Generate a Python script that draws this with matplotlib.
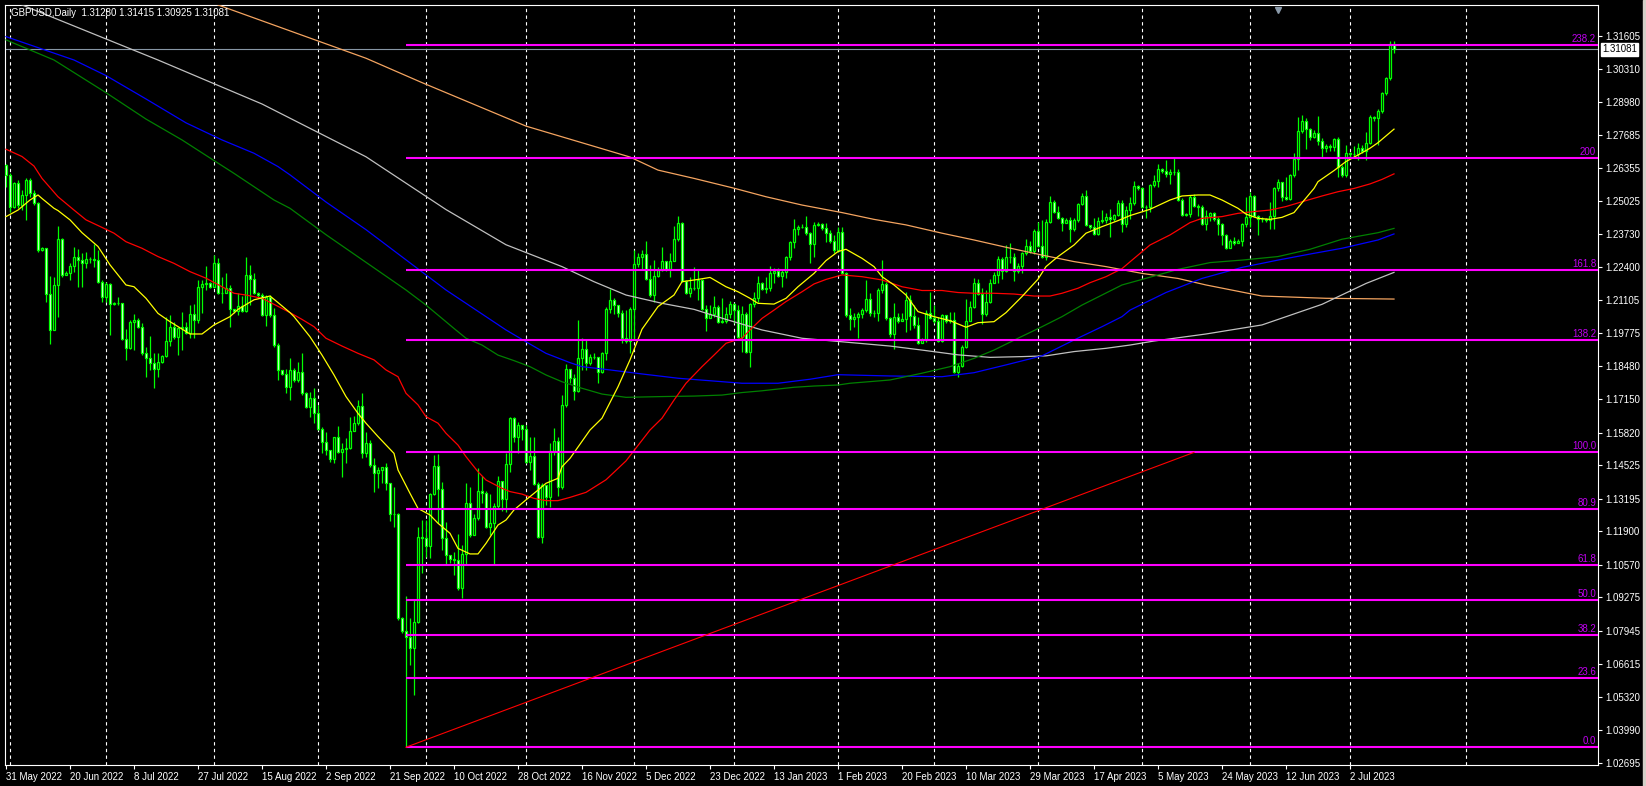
import numpy as np
import matplotlib
matplotlib.use("Agg")
import matplotlib.pyplot as plt
from matplotlib.patches import Rectangle
from matplotlib.transforms import blended_transform_factory

plt.rcParams['font.family'] = ['Liberation Sans', 'DejaVu Sans']

# GBPUSD daily bars (Sunday bars included)
first_open = 1.2647
closes = [
    1.2608, 1.2482, 1.2574, 1.2488, 1.2528, 1.2588, 1.2535, 1.2495, 1.2309, 1.2316,
    1.2134, 1.1991, 1.2170, 1.2352, 1.2210, 1.2219, 1.2246, 1.2280, 1.2269, 1.2259,
    1.2275, 1.2273, 1.2269, 1.2183, 1.2121, 1.2174, 1.2093, 1.2097, 1.2097, 1.1954,
    1.1918, 1.2023, 1.2031, 1.2004, 1.1898, 1.1878, 1.1861, 1.1837, 1.1865, 1.1888,
    1.1946, 1.2002, 1.1964, 1.1997, 1.2001, 1.1980, 1.2055, 1.2031, 1.2163, 1.2174,
    1.2179, 1.2163, 1.2256, 1.2139, 1.2139, 1.2157, 1.2073, 1.2065, 1.2086, 1.2068,
    1.2210, 1.2195, 1.2137, 1.2130, 1.2052, 1.2124, 1.2051, 1.1930, 1.1832, 1.1816,
    1.1763, 1.1832, 1.1792, 1.1825, 1.1739, 1.1686, 1.1719, 1.1659, 1.1596, 1.1547,
    1.1513, 1.1476, 1.1564, 1.1507, 1.1516, 1.1520, 1.1588, 1.1622, 1.1689, 1.1500,
    1.1543, 1.1454, 1.1421, 1.1434, 1.1445, 1.1381, 1.1259, 1.1259, 1.0844, 1.0795,
    1.0771, 1.0724, 1.0831, 1.1169, 1.1162, 1.1132, 1.1338, 1.1450, 1.1357, 1.1162,
    1.1096, 1.1079, 1.1076, 1.0963, 1.1098, 1.1301, 1.1175, 1.1242, 1.1352, 1.1341,
    1.1206, 1.1222, 1.1291, 1.1391, 1.1317, 1.1458, 1.1639, 1.1567, 1.1613, 1.1596,
    1.1467, 1.1490, 1.1378, 1.1169, 1.1374, 1.1328, 1.1511, 1.1551, 1.1368, 1.1693,
    1.1834, 1.1799, 1.1750, 1.1878, 1.1914, 1.1858, 1.1882, 1.1885, 1.1825, 1.1898,
    1.2073, 1.2110, 1.2090, 1.2057, 1.1958, 1.1948, 1.2073, 1.2253, 1.2280, 1.2293,
    1.2192, 1.2130, 1.2206, 1.2230, 1.2267, 1.2235, 1.2267, 1.2352, 1.2418, 1.2187,
    1.2139, 1.2157, 1.2157, 1.2190, 1.2073, 1.2037, 1.2055, 1.2081, 1.2024, 1.2028,
    1.2055, 1.2094, 1.2070, 1.1964, 1.2055, 1.1905, 1.2094, 1.2117, 1.2179, 1.2153,
    1.2157, 1.2216, 1.2227, 1.2206, 1.2223, 1.2280, 1.2342, 1.2391, 1.2399, 1.2402,
    1.2376, 1.2333, 1.2409, 1.2412, 1.2395, 1.2378, 1.2346, 1.2309, 1.2382, 1.2219,
    1.2051, 1.2033, 1.2041, 1.2055, 1.2071, 1.2113, 1.2057, 1.2060, 1.2150, 1.2174,
    1.2037, 1.1975, 1.2041, 1.2028, 1.2036, 1.2110, 1.2047, 1.2011, 1.1938, 1.1951,
    1.2060, 1.2037, 1.2028, 1.1949, 1.2051, 1.2028, 1.2031, 1.1825, 1.1848, 1.1922,
    1.2028, 1.2081, 1.2177, 1.2134, 1.2055, 1.2104, 1.2177, 1.2210, 1.2272, 1.2227,
    1.2280, 1.2280, 1.2227, 1.2246, 1.2296, 1.2325, 1.2307, 1.2386, 1.2325, 1.2283,
    1.2422, 1.2502, 1.2462, 1.2435, 1.2415, 1.2429, 1.2391, 1.2429, 1.2492, 1.2524,
    1.2409, 1.2399, 1.2373, 1.2426, 1.2429, 1.2439, 1.2431, 1.2448, 1.2498, 1.2413,
    1.2468, 1.2495, 1.2564, 1.2555, 1.2482, 1.2479, 1.2568, 1.2585, 1.2630, 1.2625,
    1.2612, 1.2621, 1.2621, 1.2508, 1.2448, 1.2452, 1.2521, 1.2484, 1.2482, 1.2413,
    1.2445, 1.2458, 1.2431, 1.2413, 1.2369, 1.2316, 1.2346, 1.2338, 1.2346, 1.2413,
    1.2442, 1.2524, 1.2445, 1.2431, 1.2431, 1.2429, 1.2445, 1.2555, 1.2581, 1.2521,
    1.2511, 1.2608, 1.2670, 1.2784, 1.2824, 1.2789, 1.2760, 1.2773, 1.2744, 1.2714,
    1.2723, 1.2720, 1.2749, 1.2641, 1.2608, 1.2694, 1.2691, 1.2691, 1.2714, 1.2704,
    1.2736, 1.2837, 1.2833, 1.2863, 1.2932, 1.2992, 1.3128, 1.31081,
]
highs = [
    1.2651, 1.2614, 1.2581, 1.2588, 1.2548, 1.2594, 1.2594, 1.2548, 1.2501, 1.2320,
    1.2316, 1.2206, 1.2203, 1.2405, 1.2356, 1.2227, 1.2256, 1.2322, 1.2312, 1.2296,
    1.2301, 1.2280, 1.2333, 1.2309, 1.2190, 1.2183, 1.2177, 1.2104, 1.2124, 1.2100,
    1.1994, 1.2031, 1.2055, 1.2040, 1.2020, 1.1925, 1.1967, 1.1898, 1.1898, 1.1891,
    1.2044, 1.2051, 1.2024, 1.2001, 1.2064, 1.2024, 1.2090, 1.2094, 1.2190, 1.2190,
    1.2246, 1.2183, 1.2289, 1.2276, 1.2203, 1.2216, 1.2170, 1.2073, 1.2137, 1.2126,
    1.2280, 1.2250, 1.2216, 1.2143, 1.2140, 1.2130, 1.2130, 1.2077, 1.1938, 1.1832,
    1.1834, 1.1878, 1.1838, 1.1865, 1.1898, 1.1746, 1.1746, 1.1759, 1.1692, 1.1606,
    1.1586, 1.1500, 1.1567, 1.1609, 1.1540, 1.1560, 1.1646, 1.1649, 1.1712, 1.1739,
    1.1586, 1.1553, 1.1480, 1.1447, 1.1447, 1.1463, 1.1384, 1.1368, 1.1264, 1.0850,
    1.0933, 1.0844, 1.0917, 1.1206, 1.1235, 1.1235, 1.1341, 1.1494, 1.1498, 1.1388,
    1.1228, 1.1092, 1.1109, 1.1179, 1.1136, 1.1381, 1.1368, 1.1259, 1.1441, 1.1410,
    1.1352, 1.1338, 1.1301, 1.1410, 1.1361, 1.1503, 1.1646, 1.1646, 1.1626, 1.1604,
    1.1613, 1.1567, 1.1564, 1.1388, 1.1381, 1.1334, 1.1540, 1.1600, 1.1567, 1.1732,
    1.1856, 1.1816, 1.1816, 1.2031, 1.1958, 1.1951, 1.1895, 1.1898, 1.1882, 1.1905,
    1.2084, 1.2153, 1.2117, 1.2064, 1.2070, 1.2070, 1.2084, 1.2309, 1.2298, 1.2309,
    1.2346, 1.2250, 1.2269, 1.2243, 1.2320, 1.2259, 1.2298, 1.2405, 1.2444, 1.2422,
    1.2190, 1.2203, 1.2240, 1.2230, 1.2192, 1.2090, 1.2090, 1.2126, 1.2090, 1.2117,
    1.2084, 1.2107, 1.2097, 1.2090, 1.2086, 1.2064, 1.2100, 1.2143, 1.2206, 1.2183,
    1.2203, 1.2245, 1.2236, 1.2236, 1.2232, 1.2285, 1.2346, 1.2431, 1.2409, 1.2412,
    1.2444, 1.2382, 1.2422, 1.2422, 1.2418, 1.2415, 1.2389, 1.2369, 1.2402, 1.2399,
    1.2223, 1.2077, 1.2057, 1.2064, 1.2077, 1.2190, 1.2137, 1.2071, 1.2157, 1.2269,
    1.2183, 1.2044, 1.2097, 1.2057, 1.2060, 1.2143, 1.2130, 1.2090, 1.2044, 1.1958,
    1.2071, 1.2143, 1.2090, 1.2044, 1.2055, 1.2037, 1.2064, 1.2064, 1.1861, 1.1931,
    1.2113, 1.2108, 1.2197, 1.2193, 1.2157, 1.2150, 1.2193, 1.2223, 1.2285, 1.2280,
    1.2329, 1.2336, 1.2296, 1.2256, 1.2303, 1.2352, 1.2346, 1.2391, 1.2422, 1.2429,
    1.2431, 1.2524, 1.2508, 1.2484, 1.2442, 1.2435, 1.2439, 1.2435, 1.2498, 1.2535,
    1.2548, 1.2405, 1.2435, 1.2439, 1.2468, 1.2458, 1.2471, 1.2452, 1.2508, 1.2508,
    1.2484, 1.2521, 1.2585, 1.2568, 1.2561, 1.2488, 1.2572, 1.2608, 1.2651, 1.2634,
    1.2667, 1.2630, 1.2678, 1.2630, 1.2515, 1.2458, 1.2528, 1.2532, 1.2492, 1.2488,
    1.2468, 1.2462, 1.2462, 1.2442, 1.2418, 1.2373, 1.2352, 1.2362, 1.2352, 1.2418,
    1.2521, 1.2541, 1.2528, 1.2448, 1.2439, 1.2435, 1.2501, 1.2561, 1.2590, 1.2581,
    1.2601, 1.2612, 1.2694, 1.2837, 1.2846, 1.2833, 1.2793, 1.2787, 1.2842, 1.2753,
    1.2731, 1.2731, 1.2753, 1.2757, 1.2647, 1.2727, 1.2700, 1.2723, 1.2733, 1.2727,
    1.2780, 1.2846, 1.2842, 1.2869, 1.2939, 1.2999, 1.3142, 1.31415,
]
lows = [
    1.2561, 1.2462, 1.2475, 1.2475, 1.2468, 1.2429, 1.2521, 1.2488, 1.2303, 1.2307,
    1.2104, 1.1935, 1.1991, 1.2041, 1.2203, 1.2210, 1.2190, 1.2223, 1.2161, 1.2163,
    1.2236, 1.2256, 1.2243, 1.2179, 1.2104, 1.2104, 1.1971, 1.2090, 1.2090, 1.1951,
    1.1872, 1.1914, 1.1911, 1.1998, 1.1891, 1.1805, 1.1832, 1.1759, 1.1803, 1.1861,
    1.1885, 1.1927, 1.1954, 1.1891, 1.1911, 1.1975, 1.1958, 1.1958, 1.2017, 1.2057,
    1.2150, 1.2157, 1.2163, 1.2134, 1.2097, 1.2137, 1.2001, 1.2057, 1.2051, 1.2064,
    1.2064, 1.2090, 1.2134, 1.2124, 1.2048, 1.2007, 1.2044, 1.1925, 1.1792, 1.1812,
    1.1742, 1.1712, 1.1785, 1.1785, 1.1732, 1.1679, 1.1646, 1.1620, 1.1593, 1.1500,
    1.1494, 1.1467, 1.1460, 1.1500, 1.1405, 1.1460, 1.1516, 1.1606, 1.1613, 1.1480,
    1.1487, 1.1447, 1.1348, 1.1361, 1.1381, 1.1354, 1.1232, 1.1208, 1.0837, 1.0784,
    1.0332, 1.0658, 1.0539, 1.0824, 1.1023, 1.1089, 1.1082, 1.1334, 1.1222, 1.1116,
    1.1056, 1.1063, 1.1016, 1.0957, 1.0923, 1.1056, 1.1169, 1.1208, 1.1235, 1.1301,
    1.1202, 1.1175, 1.1056, 1.1281, 1.1272, 1.1268, 1.1427, 1.1547, 1.1503, 1.1553,
    1.1460, 1.1434, 1.1374, 1.1162, 1.1145, 1.1295, 1.1288, 1.1494, 1.1330, 1.1357,
    1.1686, 1.1779, 1.1712, 1.1746, 1.1832, 1.1832, 1.1852, 1.1874, 1.1779, 1.1818,
    1.1872, 1.2057, 1.2055, 1.2044, 1.1940, 1.1938, 1.1898, 1.1951, 1.2243, 1.2230,
    1.2190, 1.2123, 1.2104, 1.2203, 1.2227, 1.2227, 1.2203, 1.2267, 1.2346, 1.2183,
    1.2134, 1.2121, 1.2150, 1.2110, 1.2070, 1.1988, 1.2037, 1.2044, 1.2020, 1.2020,
    1.2020, 1.2037, 1.2017, 1.1958, 1.1905, 1.1898, 1.1842, 1.2084, 1.2104, 1.2150,
    1.2137, 1.2147, 1.2177, 1.2200, 1.2163, 1.2196, 1.2269, 1.2316, 1.2369, 1.2395,
    1.2369, 1.2259, 1.2280, 1.2405, 1.2389, 1.2342, 1.2338, 1.2299, 1.2303, 1.2214,
    1.2044, 1.1991, 1.2004, 1.1958, 1.2037, 1.2064, 1.2047, 1.2044, 1.2028, 1.2140,
    1.2031, 1.1964, 1.1914, 1.2020, 1.2028, 1.1984, 1.1991, 1.1998, 1.1935, 1.1938,
    1.1945, 1.2033, 1.2017, 1.1945, 1.1945, 1.2020, 1.2020, 1.1821, 1.1803, 1.1842,
    1.1918, 1.2051, 1.2077, 1.2130, 1.2015, 1.2047, 1.2097, 1.2179, 1.2179, 1.2193,
    1.2223, 1.2259, 1.2187, 1.2216, 1.2216, 1.2289, 1.2299, 1.2293, 1.2323, 1.2276,
    1.2269, 1.2418, 1.2458, 1.2431, 1.2386, 1.2422, 1.2342, 1.2386, 1.2422, 1.2488,
    1.2405, 1.2391, 1.2369, 1.2369, 1.2418, 1.2415, 1.2362, 1.2426, 1.2445, 1.2382,
    1.2402, 1.2431, 1.2488, 1.2548, 1.2475, 1.2435, 1.2462, 1.2561, 1.2559, 1.2614,
    1.2601, 1.2572, 1.2608, 1.2505, 1.2445, 1.2445, 1.2442, 1.2482, 1.2445, 1.2409,
    1.2389, 1.2426, 1.2426, 1.2369, 1.2329, 1.2312, 1.2322, 1.2329, 1.2336, 1.2325,
    1.2399, 1.2402, 1.2439, 1.2369, 1.2422, 1.2422, 1.2391, 1.2391, 1.2545, 1.2505,
    1.2508, 1.2508, 1.2601, 1.2627, 1.2773, 1.2710, 1.2747, 1.2753, 1.2727, 1.2680,
    1.2700, 1.2704, 1.2704, 1.2601, 1.2601, 1.2601, 1.2674, 1.2680, 1.2667, 1.2694,
    1.2667, 1.2731, 1.2824, 1.2727, 1.2853, 1.2926, 1.2985, 1.30925,
]

# moving averages: (bar, price)
ma_yellow = [(0, 1.2442), (3, 1.2468), (6, 1.2508), (8, 1.2528), (9, 1.2514), (12, 1.2475),
             (13, 1.2466), (16, 1.2429), (19, 1.2378), (23, 1.2323), (26, 1.2250), (30, 1.2170),
             (32, 1.2163), (35, 1.2117), (38, 1.2057), (41, 1.2024), (46, 1.1975), (49, 1.1975),
             (52, 1.2011), (56, 1.2044), (58, 1.2073), (62, 1.2111), (66, 1.2126), (68, 1.2100),
             (71, 1.2060), (72, 1.2044), (76, 1.1964), (79, 1.1891), (82, 1.1812), (85, 1.1726),
             (88, 1.1659), (90, 1.1620), (93, 1.1567), (97, 1.1500), (98, 1.1434), (101, 1.1341),
             (103, 1.1281), (106, 1.1255), (108, 1.1222), (111, 1.1182), (113, 1.1122), (116, 1.1100),
             (118, 1.1100), (120, 1.1142), (123, 1.1215), (125, 1.1235), (127, 1.1275), (130, 1.1315),
             (133, 1.1354), (135, 1.1381), (138, 1.1401), (139, 1.1447), (141, 1.1480), (146, 1.1593),
             (149, 1.1640), (153, 1.1765), (156, 1.1872), (159, 1.1994), (163, 1.2084), (167, 1.2130),
             (169, 1.2183), (173, 1.2192), (176, 1.2200), (180, 1.2163), (183, 1.2143), (186, 1.2117),
             (188, 1.2097), (192, 1.2094), (195, 1.2117), (198, 1.2163), (202, 1.2216), (205, 1.2267),
             (208, 1.2303), (210, 1.2312), (214, 1.2276), (217, 1.2243), (219, 1.2203), (222, 1.2170),
             (225, 1.2130), (228, 1.2064), (232, 1.2044), (236, 1.2028), (240, 1.2002), (243, 1.2020),
             (247, 1.2024), (250, 1.2060), (254, 1.2124), (258, 1.2193), (260, 1.2243), (263, 1.2283),
             (267, 1.2329), (270, 1.2376), (274, 1.2402), (278, 1.2426), (281, 1.2446), (286, 1.2471),
             (291, 1.2508), (294, 1.2524), (298, 1.2528), (301, 1.2528), (304, 1.2508), (308, 1.2475),
             (310, 1.2452), (313, 1.2435), (316, 1.2431), (319, 1.2439), (322, 1.2458), (324, 1.2497),
             (327, 1.2554), (328, 1.2581), (332, 1.2625), (335, 1.2661), (338, 1.2687), (341, 1.2714),
             (343, 1.2736), (347, 1.2790)]
ma_red = [(0, 1.2710), (4, 1.2681), (7, 1.2643), (9, 1.2594), (13, 1.2521), (17, 1.2468),
          (20, 1.2429), (24, 1.2399), (27, 1.2376), (30, 1.2342), (34, 1.2316), (38, 1.2283),
          (42, 1.2256), (46, 1.2223), (50, 1.2197), (54, 1.2163), (57, 1.2137), (60, 1.2130),
          (64, 1.2117), (68, 1.2085), (71, 1.2060), (74, 1.2033), (77, 1.2004), (80, 1.1958),
          (84, 1.1927), (88, 1.1898), (92, 1.1872), (95, 1.1832), (98, 1.1805), (100, 1.1739),
          (103, 1.1693), (105, 1.1646), (108, 1.1620), (110, 1.1580), (113, 1.1533), (115, 1.1487),
          (118, 1.1427), (120, 1.1394), (124, 1.1361), (126, 1.1348), (129, 1.1338), (132, 1.1321),
          (135, 1.1312), (138, 1.1312), (141, 1.1325), (145, 1.1345), (150, 1.1395), (155, 1.1470),
          (161, 1.1593), (164, 1.1640), (167, 1.1712), (170, 1.1779), (174, 1.1845), (177, 1.1891),
          (180, 1.1938), (184, 1.1958), (186, 1.1991), (189, 1.2037), (192, 1.2070), (195, 1.2104),
          (199, 1.2143), (202, 1.2174), (205, 1.2192), (209, 1.2210), (214, 1.2203), (219, 1.2190),
          (224, 1.2163), (229, 1.2148), (234, 1.2148), (238, 1.2140), (242, 1.2137), (247, 1.2137),
          (252, 1.2134), (257, 1.2126), (261, 1.2126), (264, 1.2137), (268, 1.2157), (271, 1.2179),
          (275, 1.2203), (279, 1.2235), (281, 1.2262), (286, 1.2329), (291, 1.2369), (296, 1.2418),
          (299, 1.2435), (304, 1.2442), (308, 1.2455), (312, 1.2462), (316, 1.2468), (320, 1.2482),
          (324, 1.2501), (329, 1.2524), (333, 1.2541), (337, 1.2554), (341, 1.2572), (344, 1.2590),
          (347, 1.2612)]
ma_green = [(0, 1.3145), (12, 1.3065), (25, 1.2935), (35, 1.2830), (44, 1.2747), (52, 1.2665),
            (57, 1.2614), (62, 1.2561), (67, 1.2508), (71, 1.2475), (80, 1.2370), (90, 1.2260),
            (100, 1.2150), (105, 1.2090), (109, 1.2037), (112, 1.1997), (115, 1.1958), (119, 1.1931),
            (123, 1.1891), (127, 1.1869), (131, 1.1845), (135, 1.1812), (139, 1.1785), (144, 1.1759),
            (149, 1.1736), (155, 1.1723), (164, 1.1726), (172, 1.1728), (179, 1.1732), (184, 1.1742),
            (189, 1.1749), (197, 1.1763), (202, 1.1768), (208, 1.1772), (211, 1.1779), (221, 1.1792),
            (229, 1.1819), (236, 1.1845), (242, 1.1878), (247, 1.1911), (253, 1.1958), (259, 1.2004),
            (264, 1.2044), (269, 1.2090), (274, 1.2130), (279, 1.2170), (284, 1.2192), (293, 1.2232),
            (301, 1.2259), (309, 1.2269), (318, 1.2283), (326, 1.2312), (334, 1.2352), (343, 1.2378),
            (347, 1.2395)]
ma_blue = [(0, 1.3158), (17, 1.3065), (25, 1.3003), (35, 1.2910), (45, 1.2815), (54, 1.2747),
           (62, 1.2694), (68, 1.2641), (71, 1.2608), (80, 1.2500), (90, 1.2390), (100, 1.2270),
           (110, 1.2150), (115, 1.2097), (120, 1.2044), (125, 1.1991), (130, 1.1944), (135, 1.1898),
           (141, 1.1861), (144, 1.1845), (151, 1.1832), (159, 1.1816), (168, 1.1799), (176, 1.1789),
           (184, 1.1779), (193, 1.1779), (201, 1.1795), (208, 1.1813), (221, 1.1808), (234, 1.1805),
           (242, 1.1821), (250, 1.1852), (259, 1.1888), (267, 1.1951), (274, 1.2004), (279, 1.2044),
           (281, 1.2070), (290, 1.2140), (299, 1.2196), (309, 1.2240), (318, 1.2269), (326, 1.2293),
           (334, 1.2316), (343, 1.2349), (347, 1.2373)]
ma_silver = [(4, 1.3284), (38, 1.3065), (64, 1.2890), (90, 1.2680), (110, 1.2470), (125, 1.2330),
             (139, 1.2243), (147, 1.2183), (155, 1.2130), (164, 1.2097), (172, 1.2073), (180, 1.2033),
             (189, 1.1991), (199, 1.1958), (209, 1.1944), (221, 1.1927), (229, 1.1911), (238, 1.1892),
             (246, 1.1882), (254, 1.1885), (260, 1.1888), (267, 1.1905), (275, 1.1918), (281, 1.1931),
             (287, 1.1947), (300, 1.1975), (314, 1.2011), (329, 1.2093), (340, 1.2176), (347, 1.2220)]
ma_orange = [(53, 1.3284), (90, 1.3072), (104, 1.2975), (130, 1.2802), (156, 1.2679), (163, 1.2627),
             (172, 1.2594), (182, 1.2555), (190, 1.2521), (199, 1.2488), (209, 1.2458), (217, 1.2431),
             (225, 1.2409), (234, 1.2376), (242, 1.2349), (250, 1.2320), (259, 1.2289), (267, 1.2263),
             (275, 1.2243), (284, 1.2216), (293, 1.2196), (300, 1.2170), (314, 1.2126), (330, 1.2117),
             (347, 1.2114)]

# Fibonacci object
fib_low, fib_high = 1.0331, 1.1504
fib_start_bar, fib_end_bar = 100, 297
fib_ratios = [0.0, 0.236, 0.382, 0.5, 0.618, 0.809, 1.0, 1.382, 1.618, 2.0, 2.382]
fib_texts = ['0.0', '23.6', '38.2', '50.0', '61.8', '80.9', '100.0', '138.2', '161.8', '200', '238.2']

# axis labels
date_labels = ['31 May 2022', '20 Jun 2022', '8 Jul 2022', '27 Jul 2022', '15 Aug 2022',
               '2 Sep 2022', '21 Sep 2022', '10 Oct 2022', '28 Oct 2022', '16 Nov 2022',
               '5 Dec 2022', '23 Dec 2022', '13 Jan 2023', '1 Feb 2023', '20 Feb 2023',
               '10 Mar 2023', '29 Mar 2023', '17 Apr 2023', '5 May 2023', '24 May 2023',
               '12 Jun 2023', '2 Jul 2023']
date_bars = [16 * i for i in range(len(date_labels))]
month_start_bars = [1, 25, 52, 78, 105, 130, 157, 182, 208, 232, 258, 284, 311, 336, 365]
price_ticks = [1.31605, 1.30310, 1.28980, 1.27685, 1.26355, 1.25025, 1.23730, 1.22400,
               1.21105, 1.19775, 1.18480, 1.17150, 1.15820, 1.14525, 1.13195, 1.11900,
               1.10570, 1.09275, 1.07945, 1.06615, 1.05320, 1.03990, 1.02695]
bid = 1.31081
title = 'GBPUSD,Daily  1.31280 1.31415 1.30925 1.31081'

assert len(closes) == len(highs) == len(lows)

W, H = 1646, 786
fig = plt.figure(figsize=(W / 100, H / 100), dpi=100, facecolor='black')
ax = fig.add_axes([5 / W, 21 / H, 1593 / W, 760 / H], facecolor='black')
ax.set_xlim(-0.25, 398)
ax.set_ylim(1.02603, 1.32838)

# month grid
for b in month_start_bars:
    ax.axvline(b, color='white', lw=0.8, ls=(0, (3, 3)), zorder=1)

# candles
c = np.array(closes)
o = np.r_[first_open, c[:-1]]
x = np.arange(len(c))
ax.vlines(x, lows, highs, colors='#00ff00', lw=0.9, zorder=3)
ax.bar(x, np.abs(c - o), bottom=np.minimum(o, c), width=0.62,
       color=np.where(c >= o, 'black', 'white'), edgecolor='#00ff00', linewidth=0.9, zorder=4)

# moving averages
for pts, col in [(ma_orange, '#f4a460'), (ma_silver, '#c0c0c0'), (ma_blue, '#0000ff'),
                 (ma_green, '#008000'), (ma_red, '#ff0000'), (ma_yellow, '#ffff00')]:
    bx, by = zip(*pts)
    ax.plot(bx, by, color=col, lw=0.9, zorder=5)

# bid line
ax.axhline(bid, color='#8796a5', lw=0.8, zorder=2)

# fibonacci
span = fib_high - fib_low
tr = blended_transform_factory(ax.transAxes, ax.transData)
for r, t in zip(fib_ratios, fib_texts):
    lvl = fib_low + r * span
    ax.hlines(lvl, fib_start_bar, 398, colors='#ff00ff', lw=1.5, zorder=6)
    ax.text(0.9988, lvl + 0.0004, t, transform=tr, ha='right', va='bottom',
            fontsize=7, color='#c000f0', zorder=7)
ax.plot([fib_start_bar, fib_end_bar], [fib_low, fib_high], color='#ff0000', lw=0.8, zorder=6)

# axes styling
for s in ax.spines.values():
    s.set_color('white')
    s.set_linewidth(0.8)
ax.yaxis.tick_right()
ax.set_yticks(price_ticks)
ax.set_yticklabels([f'{p:.5f}' for p in price_ticks])
ax.set_xticks(date_bars)
ax.set_xticklabels(date_labels, ha='left')
ax.tick_params(colors='white', labelsize=7, length=3, width=0.8, pad=2)

ax.text(0.0038, 0.9895, title, transform=ax.transAxes, color='white', fontsize=7,
        ha='left', va='center', zorder=8)
ax.text(1.0025, bid, f'{bid:.5f}', transform=tr, color='black', fontsize=7, ha='left',
        va='center', zorder=8, clip_on=False,
        bbox=dict(boxstyle='square,pad=0.15', fc='white', ec='white'))
ax.plot([0.799], [0.993], marker='v', ms=5, color='#8a9aaa', transform=ax.transAxes,
        clip_on=False, zorder=8)

fig.add_artist(Rectangle((1643 / W, 0), 3 / W, 1, transform=fig.transFigure,
                         color='#d4d0c8', zorder=10))

fig.savefig('out.png', dpi=100, facecolor='black')
